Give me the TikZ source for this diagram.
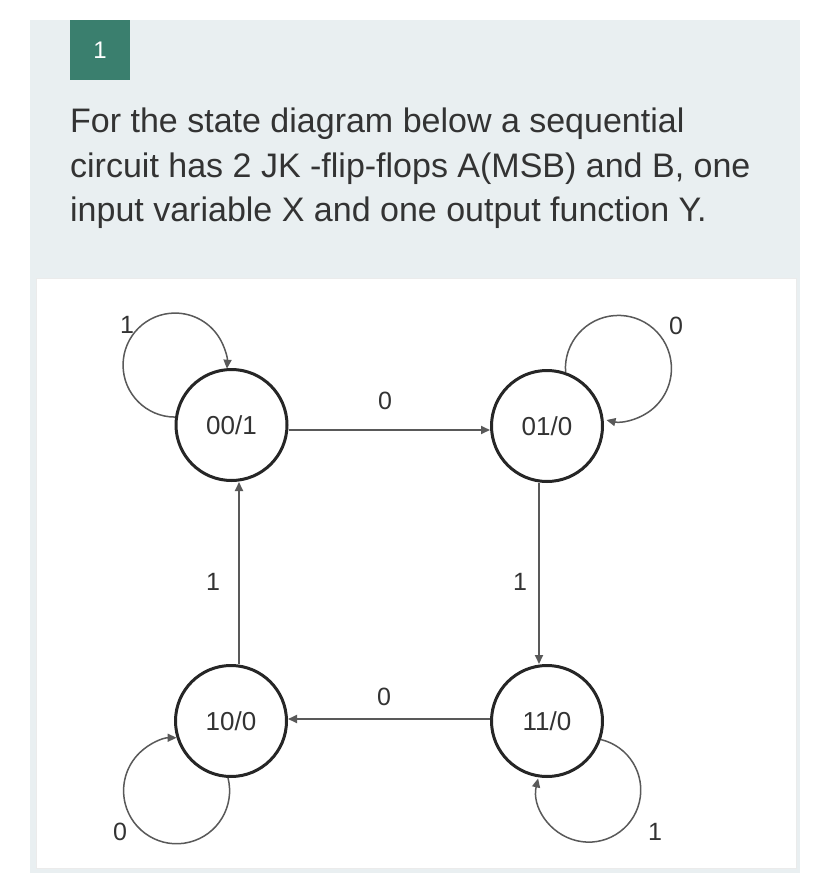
\documentclass[tikz,border=0pt]{standalone}
\usepackage{fontspec}
\setmainfont{Liberation Sans}
\usetikzlibrary{arrows.meta}
\definecolor{panel}{HTML}{E9EFF1}
\definecolor{badge}{HTML}{3A7F6E}
\definecolor{txt}{HTML}{333333}
\definecolor{edgec}{HTML}{595959}
\begin{document}
\begin{tikzpicture}[x=1pt,y=1pt,
  state/.style={circle, draw=black!85, line width=3pt, minimum size=111pt, inner sep=0pt,
                font=\fontsize{26}{30}\selectfont, text=txt},
  tr/.style={draw=edgec, line width=1.8pt, -{Triangle[length=9pt,width=8pt]}},
  lp/.style={draw=edgec, line width=1.5pt, -{Triangle[length=9pt,width=8pt]}},
  lbl/.style={font=\fontsize{25}{28}\selectfont, text=txt, inner sep=0pt},
  body/.style={anchor=base west, font=\fontsize{34}{40}\selectfont, text=txt, inner sep=0pt}]
\useasboundingbox (0,0) rectangle (828,-885);
\fill[white] (0,0) rectangle (828,-885);
\fill[panel] (30,-20) rectangle (800,-873);
\filldraw[fill=white, draw=black!8, line width=0.8pt] (36,-278) rectangle (796,-868);
\node[fill=badge, minimum width=60pt, minimum height=60pt, inner sep=0pt, text=white,
      font=\fontsize{24}{28}\selectfont] (badge) at (100,-50) {1};
\node[body] (l1) at (70,-133) {For the state diagram below a sequential};
\node[body] (l2) at (70,-178) {circuit has 2 JK -flip-flops A(MSB) and B, one};
\node[body] (l3) at (70,-222) {input variable X and one output function Y.};
% states
\node[state] (s00) at (231.5,-425) {00/1};
\node[state] (s01) at (547,-426) {01/0};
\node[state] (s10) at (231,-721) {10/0};
\node[state] (s11) at (547,-721) {11/0};
% transitions
\draw[tr] ([yshift=-5pt]s00.east) -- ([yshift=-4pt]s01.west);
\draw[tr] ([xshift=-8pt]s01.south) -- ([xshift=-8pt]s11.north);
\draw[tr] ([yshift=2pt]s11.west) -- ([yshift=2pt]s10.east);
\draw[tr] ([xshift=8pt]s10.north) -- ([xshift=7.5pt]s00.south);
% self loops
\draw[lp] (s00.172) arc[start angle=-90, end angle=-364, radius=52];
\draw[lp] (s01.71) arc[start angle=184, end angle=-103, radius=53];
\draw[lp] (s10.267) arc[start angle=14, end angle=-270, radius=53];
\draw[lp] (s11.341) arc[start angle=76.5, end angle=-193, radius=52];
% labels
\node[lbl] (t1) at (385,-401) {0};
\node[lbl] (t2) at (213,-582) {1};
\node[lbl] (t3) at (520,-582) {1};
\node[lbl] (t4) at (384,-697) {0};
\node[lbl] (t5) at (127,-325) {1};
\node[lbl] (t6) at (676,-326) {0};
\node[lbl] (t7) at (120,-832) {0};
\node[lbl] (t8) at (655,-832) {1};
\end{tikzpicture}
\end{document}
